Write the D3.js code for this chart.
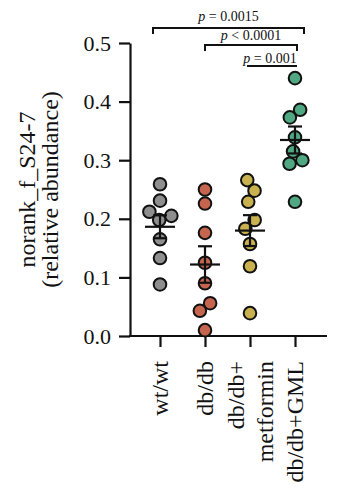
<!DOCTYPE html>
<html><head><meta charset="utf-8">
<script src="https://cdn.jsdelivr.net/npm/d3@7"></script>
<style>
html,body{margin:0;padding:0;background:#fff;}
svg text{font-family:"Liberation Serif","Times New Roman",serif !important;fill:#111;}
</style></head>
<body><svg id="chart" width="339" height="500"></svg>
<script>
// ---- data ----
const categories = ["wt/wt", "db/db", "db/db+\nmetformin", "db/db+GML"];
const wtValues = [0.259, 0.231, 0.212, 0.205, 0.198, 0.165, 0.133, 0.088];
const dbValues = [0.250, 0.226, 0.176, 0.125, 0.090, 0.056, 0.043, 0.010];
const metforminValues = [0.266, 0.248, 0.229, 0.198, 0.183, 0.157, 0.119, 0.039];
const gmlValues = [0.440, 0.386, 0.373, 0.339, 0.315, 0.300, 0.294, 0.229];
const seriesValues = [wtValues, dbValues, metforminValues, gmlValues];
const colors = ["#8e8e8e", "#c6654e", "#c8b14e", "#50a882"];
const yTicks = [0, 0.1, 0.2, 0.3, 0.4, 0.5];
const yLabel = ["norank_f_S24-7", "(relative abundance)"];
const comparisons = [
  {from: 0, to: 3, op: "=", p: "0.0015"},
  {from: 1, to: 3, op: "<", p: "0.0001"},
  {from: 2, to: 3, op: "=", p: "0.001"}
];

// ---- layout ----
const FONT = '"Liberation Serif", "Times New Roman", serif';
const svg = d3.select("#chart");
const axisX = 130, baseY = 336, topY = 43;
const y = d3.scaleLinear().domain([0, 0.5]).range([baseY, topY]);
const x = d3.scalePoint().domain(categories).range([160, 295]);
const R = 6.3;

// y axis
const yAxis = svg.append("g").attr("transform", `translate(${axisX},0)`)
  .call(d3.axisLeft(y).tickValues(yTicks).tickFormat(d3.format(".1f")).tickSize(11).tickSizeOuter(0).tickPadding(8));
yAxis.attr("font-family", FONT);
yAxis.select(".domain").attr("stroke", "#111").attr("stroke-width", 2.2);
yAxis.selectAll(".tick line").attr("stroke", "#111").attr("stroke-width", 2.2);
yAxis.selectAll(".tick text").attr("font-size", 22).style("font-family", FONT).attr("fill", "#111");

// x axis
const xAxis = svg.append("g").attr("transform", `translate(0,${baseY})`)
  .call(d3.axisBottom(x).tickSize(11).tickSizeOuter(0).tickFormat(""));
xAxis.select(".domain").remove();
xAxis.selectAll(".tick line").attr("stroke", "#111").attr("stroke-width", 2.2);
xAxis.append("line").attr("x1", axisX - 1).attr("x2", x(categories[3]) + 32)
  .attr("y1", 0).attr("y2", 0).attr("stroke", "#111").attr("stroke-width", 2.2);

// x labels (rotated)
categories.forEach(c => {
  const lines = c.split("\n");
  const t = svg.append("text")
    .attr("transform", `translate(${x(c)},${baseY + 25}) rotate(-90)`)
    .attr("text-anchor", "end").attr("font-size", 24).style("font-family", FONT);
  lines.forEach((ln, i) => {
    t.append("tspan").attr("x", 0)
      .attr("dy", i === 0 ? `${0.35 - (lines.length - 1) * 0.6}em` : "1.2em")
      .text(ln);
  });
});

// y label
yLabel.forEach((ln, i) => {
  svg.append("text")
    .attr("transform", `translate(${27 + i * 23},${(topY + baseY) / 2}) rotate(-90)`)
    .attr("text-anchor", "middle").attr("dy", "0.35em").attr("font-size", 24)
    .style("font-family", FONT)
    .text(ln);
});

// points with collision layout
seriesValues.forEach((vals, gi) => {
  const cx = x(categories[gi]);
  const nodes = vals.map((v, i) => ({v, x: cx + (i % 2 ? 0.8 : -0.8) * (i % 3), y: y(v), fy: y(v)}));
  const sim = d3.forceSimulation(nodes)
    .force("x", d3.forceX(cx).strength(0.08))
    .force("collide", d3.forceCollide(R + 0.1).iterations(4))
    .stop();
  for (let k = 0; k < 300; k++) sim.tick();
  svg.append("g").selectAll("circle").data(nodes).join("circle")
    .attr("cx", d => d.x).attr("cy", d => d.fy).attr("r", R)
    .attr("fill", colors[gi]).attr("stroke", "#111").attr("stroke-width", 2);

  const mean = d3.mean(vals);
  const sem = d3.deviation(vals) / Math.sqrt(vals.length);
  const g = svg.append("g").attr("stroke", "#111").attr("stroke-width", 2.2);
  g.append("line").attr("x1", cx).attr("x2", cx).attr("y1", y(mean - sem)).attr("y2", y(mean + sem));
  g.append("line").attr("x1", cx - 7).attr("x2", cx + 7).attr("y1", y(mean + sem)).attr("y2", y(mean + sem));
  g.append("line").attr("x1", cx - 7).attr("x2", cx + 7).attr("y1", y(mean - sem)).attr("y2", y(mean - sem));
  g.append("line").attr("x1", cx - 15).attr("x2", cx + 15).attr("y1", y(mean)).attr("y2", y(mean));
});

// significance brackets
const bracketGeom = [
  {x1: -7, x2: 9, ly: 28, tick: 6, ty: 21},
  {x1: 0, x2: 2, ly: 45, tick: 6, ty: 40},
  {x1: -3, x2: 2, ly: 66, tick: 0, ty: 63}
];
comparisons.forEach((c, i) => {
  const gm = bracketGeom[i];
  const xa = x(categories[c.from]) + gm.x1, xb = x(categories[c.to]) + gm.x2;
  svg.append("path")
    .attr("d", `M${xa},${gm.ly + gm.tick}V${gm.ly}H${xb}V${gm.ly + gm.tick}`)
    .attr("fill", "none").attr("stroke", "#111").attr("stroke-width", 2);
  const t = svg.append("text").attr("x", (xa + xb) / 2 + (i === 2 ? -2 : 0)).attr("y", gm.ty)
    .attr("text-anchor", "middle").attr("font-size", 14).style("font-family", FONT);
  t.append("tspan").attr("font-style", "italic").text("p");
  t.append("tspan").text(` ${c.op} ${c.p}`);
});
</script></body></html>
